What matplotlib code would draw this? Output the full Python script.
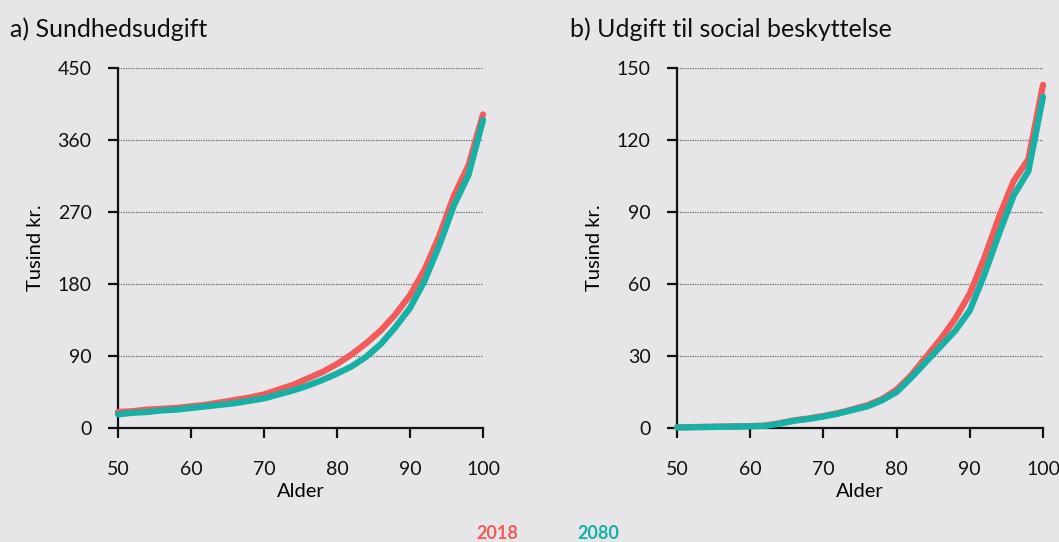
import numpy as np
import matplotlib
matplotlib.use('Agg')
import matplotlib.pyplot as plt

# Data
ages = [50, 52, 54, 56, 58, 60, 62, 64, 66, 68, 70, 72, 74, 76, 78,
        80, 82, 84, 86, 88, 90, 92, 94, 96, 98, 100]

health_2018 = [20, 21, 23, 24, 25, 27, 29, 32, 35, 38, 42, 48, 54, 62, 70,
               80, 92, 106, 122, 142, 166, 198, 240, 290, 328, 392]
health_2080 = [17, 19, 20, 22, 23, 25, 27, 29, 31, 34, 37, 42, 47, 53, 60,
               68, 77, 89, 105, 126, 150, 184, 228, 278, 316, 385]

social_2018 = [0.3, 0.4, 0.5, 0.6, 0.7, 0.8, 1.0, 2.0, 3.2, 4.0, 5.0, 6.2, 7.8, 9.5, 12,
               16, 22, 29.5, 37, 45.5, 56, 71, 88, 103, 112, 143]
social_2080 = [0.2, 0.3, 0.4, 0.5, 0.6, 0.7, 0.9, 1.8, 3.0, 3.8, 4.8, 6.0, 7.5, 9.0, 11.5,
               15, 21, 27.5, 34, 40.5, 49, 64, 81, 97, 107, 138]

x_ticks = [50, 60, 70, 80, 90, 100]
health_ticks = [0, 90, 180, 270, 360, 450]
social_ticks = [0, 30, 60, 90, 120, 150]

titles = ['a) Sundhedsudgift', 'b) Udgift til social beskyttelse']
years = ['2018', '2080']

# Colours
bg = '#E6E6E8'
red = '#F35A5A'
teal = '#17B0A4'

plt.rcParams['font.family'] = ['Lato', 'DejaVu Sans']

fig = plt.figure(figsize=(10.59, 5.42), dpi=100, facecolor=bg)
ax1 = fig.add_axes([0.1114, 0.2103, 0.3447, 0.6642])
ax2 = fig.add_axes([0.6393, 0.2103, 0.3456, 0.6642])

panels = [
    (ax1, health_2018, health_2080, health_ticks, titles[0], 0.009),
    (ax2, social_2018, social_2080, social_ticks, titles[1], 0.538),
]

for ax, s18, s80, yt, title, tx in panels:
    ax.set_facecolor(bg)
    ax.plot(ages, s18, color=red, lw=4.5, solid_capstyle='round', clip_on=False, zorder=3)
    ax.plot(ages, s80, color=teal, lw=4.5, solid_capstyle='round', clip_on=False, zorder=4)
    ax.set_xlim(50, 100)
    ax.set_ylim(yt[0], yt[-1])
    ax.set_xticks(x_ticks)
    ax.set_yticks(yt)
    ax.tick_params(axis='both', direction='out', length=7, width=1.6,
                   labelsize=14, colors='#111111')
    ax.tick_params(axis='x', pad=17)
    ax.tick_params(axis='y', pad=12)
    for side in ['top', 'right']:
        ax.spines[side].set_visible(False)
    for side in ['left', 'bottom']:
        ax.spines[side].set_linewidth(1.6)
        ax.spines[side].set_color('#111111')
    for v in yt[1:]:
        ax.axhline(v, color='#666666', lw=0.9, ls=(0, (1, 1)), zorder=1)
    ax.set_xlabel('Alder', fontsize=14.5, labelpad=3)
    ax.set_ylabel('Tusind kr.', fontsize=14.5, labelpad=10)
    fig.text(tx, 0.947, title, fontsize=18, ha='left', va='center', color='#111111')

# Legend text at the bottom
fig.text(0.47, 0.016, years[0], color=red, fontsize=13, fontweight='bold', ha='center', va='center')
fig.text(0.565, 0.016, years[1], color=teal, fontsize=13, fontweight='bold', ha='center', va='center')

fig.savefig('out.png', dpi=100, facecolor=bg)
